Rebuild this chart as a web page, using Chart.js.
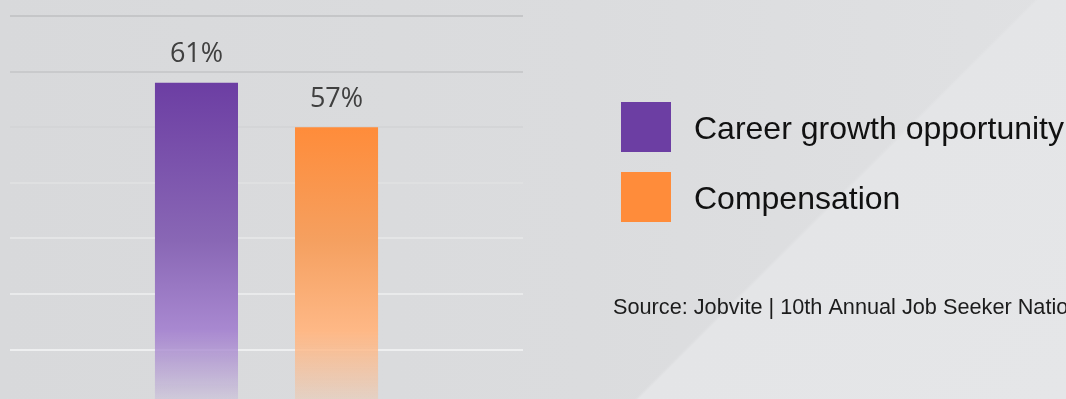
<!DOCTYPE html>
<html>
<head>
<meta charset="utf-8">
<script src="https://cdn.jsdelivr.net/npm/chart.js@4.4.1/dist/chart.umd.min.js"></script>
<style>
  html, body { margin: 0; padding: 0; width: 1066px; height: 399px; overflow: hidden; }
  #wrap {
    position: relative; width: 1066px; height: 399px;
    background:
      linear-gradient(135deg, rgba(228,229,231,0) 0px, rgba(228,229,231,0) 731px, rgba(228,229,231,1) 734px, rgba(229,230,232,1) 100%),
      linear-gradient(90deg, #d8d9db 0%, #dbdcde 55%, #e0e1e3 100%);
  }
  canvas { position: absolute; left: 0; top: 0; }
</style>
</head>
<body>
<div id="wrap"><canvas id="c" width="1066" height="399"></canvas></div>
<script>
// ---- data ----
const categories = [''];
const seriesNames = ['Career growth opportunity', 'Compensation'];
const careerGrowth = [61];
const compensation = [57];
const gridTicks = [37, 42, 47, 52, 57, 62, 67];
const sourceText = 'Source: Jobvite | 10th Annual Job Seeker Nation Report';

// ---- styles ----
const solidColors = ['#6c3ea3', '#ff8c3a'];
const gradStops = [
  [[0, 'rgba(108,62,163,1)'], [0.5, 'rgba(137,103,181,1)'], [0.78, 'rgba(168,136,208,1)'], [1, 'rgba(168,136,208,0.2)']],
  [[0, 'rgba(255,140,58,1)'], [0.42, 'rgba(245,160,96,1)'], [0.75, 'rgba(254,184,134,1)'], [1, 'rgba(254,184,134,0.28)']]
];
const gridColors = ['#eeeff0', '#e9eaeb', '#e4e5e6', '#dfe0e1', '#d4d5d7', '#c9cacc', '#c5c6c8'];

function barGradient(dsIndex) {
  return function (ctx) {
    const chart = ctx.chart;
    const area = chart.chartArea;
    if (!area || !chart.scales.y) return solidColors[dsIndex];
    const v = ctx.raw;
    const top = chart.scales.y.getPixelForValue(v);
    const g = chart.ctx.createLinearGradient(0, top, 0, area.bottom);
    gradStops[dsIndex].forEach(s => g.addColorStop(s[0], s[1]));
    return g;
  };
}

const valueLabels = {
  id: 'valueLabels',
  afterDatasetsDraw(chart) {
    const ctx = chart.ctx;
    ctx.save();
    ctx.font = '27px "Open Sans"';
    ctx.fillStyle = '#404040';
    ctx.textAlign = 'center';
    ctx.textBaseline = 'alphabetic';
    chart.data.datasets.forEach((ds, i) => {
      const meta = chart.getDatasetMeta(i);
      meta.data.forEach((el, j) => {
        ctx.fillText(ds.data[j] + '%', el.x, el.y - 20.5);
      });
    });
    ctx.restore();
  }
};

const sideLegend = {
  id: 'sideLegend',
  afterDraw(chart) {
    const ctx = chart.ctx;
    ctx.save();
    const x0 = 621, y0 = 102, box = 50, rowGap = 70;
    chart.data.datasets.forEach((ds, i) => {
      const y = y0 + i * rowGap;
      ctx.fillStyle = solidColors[i];
      ctx.fillRect(x0, y, box, box);
      ctx.fillStyle = '#111111';
      ctx.font = '32px "Liberation Sans", Arial, sans-serif';
      ctx.textAlign = 'left';
      ctx.textBaseline = 'alphabetic';
      ctx.fillText(ds.label, 694, y + box / 2 + 12);
    });
    ctx.font = '21.7px "Liberation Sans", Arial, sans-serif';
    ctx.fillStyle = '#1c1c1c';
    ctx.fillText(sourceText, 613, 314);
    ctx.restore();
  }
};

new Chart(document.getElementById('c'), {
  type: 'bar',
  data: {
    labels: categories,
    datasets: [
      { label: seriesNames[0], data: careerGrowth, backgroundColor: barGradient(0), borderWidth: 0 },
      { label: seriesNames[1], data: compensation, backgroundColor: barGradient(1), borderWidth: 0 }
    ]
  },
  options: {
    responsive: false,
    animation: false,
    devicePixelRatio: 1,
    layout: { padding: { left: 10, right: 543, top: 0, bottom: 0 } },
    categoryPercentage: 0.546,
    barPercentage: 0.593,
    plugins: { legend: { display: false }, tooltip: { enabled: false } },
    scales: {
      x: { display: false },
      y: {
        min: 32.57,
        max: 68.44,
        afterBuildTicks(scale) { scale.ticks = gridTicks.map(v => ({ value: v })); },
        ticks: { display: false },
        border: { display: false },
        grid: {
          drawTicks: false,
          lineWidth: 2,
          color: (ctx) => gridColors[gridTicks.indexOf(ctx.tick ? ctx.tick.value : -1)] || 'rgba(0,0,0,0)'
        }
      }
    }
  },
  plugins: [valueLabels, sideLegend]
});
</script>
</body>
</html>
